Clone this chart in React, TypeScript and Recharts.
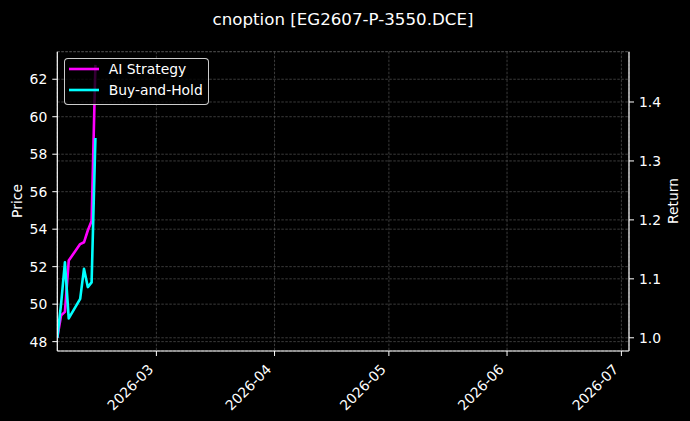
import React from 'react';
import { LineChart, Line, XAxis, YAxis, CartesianGrid } from 'recharts';

// ---- data ----
const dates = [
  '2026-02-03', '2026-02-04', '2026-02-05', '2026-02-06',
  '2026-02-09', '2026-02-10', '2026-02-11', '2026-02-12', '2026-02-13',
];
const aiStrategy = [1.0, 1.038, 1.044, 1.131, 1.159, 1.162, 1.182, 1.198, 1.463];
const buyAndHold = [1.0, 1.058, 1.128, 1.033, 1.066, 1.117, 1.086, 1.094, 1.339];

const monthTicks = ['2026-03-01', '2026-04-01', '2026-05-01', '2026-06-01', '2026-07-01'];
const xStart = '2026-02-03';
const xEnd = '2026-07-03';
const priceTicks = [48, 50, 52, 54, 56, 58, 60, 62];
const priceDomain = [47.5, 63.47];
const returnTicks = [1.0, 1.1, 1.2, 1.3, 1.4];
const returnDomain = [0.9776, 1.4853];

const title = 'cnoption [EG2607-P-3550.DCE]';
const series = [
  { key: 'ai', name: 'AI Strategy', color: '#ff00ff' },
  { key: 'bh', name: 'Buy-and-Hold', color: '#00ffff' },
];

const toTs = (s: string) => Date.parse(s + 'T00:00:00Z');
const data = dates.map((d, i) => ({ t: toTs(d), ai: aiStrategy[i], bh: buyAndHold[i] }));

const FONT = "'DejaVu Sans', sans-serif";
const TICK_FS = 13.9;
const GRID = '#555555';
const LINE_W = 2.6;

const fmtMonth = (v: number) => {
  const d = new Date(v);
  const m = d.getUTCMonth() + 1;
  return `${d.getUTCFullYear()}-${m < 10 ? '0' + m : m}`;
};

const XTick = (props: any) => {
  const { x, y, payload } = props;
  const px = x - 5.7;
  const py = y + 5.7;
  return (
    <text
      x={px}
      y={py}
      textAnchor="end"
      dominantBaseline="central"
      transform={`rotate(-45, ${px}, ${py})`}
      fill="#ffffff"
      fontSize={TICK_FS}
      fontFamily={FONT}
    >
      {fmtMonth(payload.value)}
    </text>
  );
};

export default function App() {
  return (
    <div
      style={{
        position: 'absolute',
        left: 0,
        top: 0,
        width: 690,
        height: 421,
        background: '#000',
        fontFamily: FONT,
        overflow: 'hidden',
      }}
    >
      <LineChart
        width={690}
        height={421}
        data={data}
        margin={{ top: 51.7, right: 0, bottom: 0, left: 0 }}
      >
        <CartesianGrid
          yAxisId="price"
          stroke={GRID}
          strokeDasharray="2.5 1.5"
          strokeWidth={0.7}
          vertical={true}
          horizontal={true}
        />
        <CartesianGrid
          yAxisId="ret"
          stroke={GRID}
          strokeDasharray="2.5 1.5"
          strokeWidth={0.7}
          vertical={false}
          horizontal={true}
        />
        <XAxis
          dataKey="t"
          type="number"
          scale="linear"
          domain={[toTs(xStart), toTs(xEnd)]}
          ticks={monthTicks.map(toTs)}
          allowDataOverflow
          height={70}
          tickSize={5}
          tickMargin={5}
          tick={<XTick />}
          axisLine={{ stroke: '#ffffff', strokeWidth: 1.2 }}
          tickLine={{ stroke: '#ffffff', strokeWidth: 1 }}
          interval={0}
        />
        <XAxis
          xAxisId="top"
          orientation="top"
          dataKey="t"
          type="number"
          domain={[toTs(xStart), toTs(xEnd)]}
          allowDataOverflow
          height={0}
          tick={false}
          tickLine={false}
          axisLine={{ stroke: '#ffffff', strokeWidth: 1.2 }}
        />
        <YAxis
          yAxisId="price"
          orientation="left"
          type="number"
          width={57.3}
          domain={priceDomain}
          ticks={priceTicks}
          allowDataOverflow
          interval={0}
          tickSize={5}
          tickMargin={5}
          tick={{ fill: '#ffffff', fontSize: TICK_FS, fontFamily: FONT }}
          axisLine={{ stroke: '#ffffff', strokeWidth: 1.2 }}
          tickLine={{ stroke: '#ffffff', strokeWidth: 1 }}
        />
        <YAxis
          yAxisId="ret"
          orientation="right"
          type="number"
          width={61}
          domain={returnDomain}
          ticks={returnTicks}
          allowDataOverflow
          interval={0}
          tickFormatter={(v: number) => v.toFixed(1)}
          tickSize={5}
          tickMargin={5}
          tick={{ fill: '#ffffff', fontSize: TICK_FS, fontFamily: FONT }}
          axisLine={{ stroke: '#ffffff', strokeWidth: 1.2 }}
          tickLine={{ stroke: '#ffffff', strokeWidth: 1 }}
        />
        {series.map((s) => (
          <Line
            key={s.key}
            yAxisId="ret"
            type="linear"
            dataKey={s.key}
            name={s.name}
            stroke={s.color}
            strokeWidth={LINE_W}
            strokeLinejoin="round"
            dot={false}
            activeDot={false}
            isAnimationActive={false}
          />
        ))}
      </LineChart>

      <svg
        width={690}
        height={421}
        style={{ position: 'absolute', left: 0, top: 0, pointerEvents: 'none' }}
      >
        <text x={343} y={25} textAnchor="middle" fill="#ffffff" fontSize={16.67} fontFamily={FONT}>
          {title}
        </text>
        <text
          x={17}
          y={201}
          textAnchor="middle"
          dominantBaseline="central"
          transform="rotate(-90, 17, 201)"
          fill="#ffffff"
          fontSize={TICK_FS}
          fontFamily={FONT}
        >
          Price
        </text>
        <text
          x={673}
          y={201}
          textAnchor="middle"
          dominantBaseline="central"
          transform="rotate(-90, 673, 201)"
          fill="#ffffff"
          fontSize={TICK_FS}
          fontFamily={FONT}
        >
          Return
        </text>
      </svg>

      <div
        style={{
          position: 'absolute',
          left: 64.3,
          top: 58,
          width: 144.4,
          height: 46.7,
          boxSizing: 'border-box',
          border: '1px solid rgba(255,255,255,0.8)',
          borderRadius: 4,
          background: 'rgba(0,0,0,0.8)',
        }}
      >
        {series.map((s, i) => (
          <div
            key={s.key}
            style={{
              position: 'absolute',
              left: 3.4,
              top: 9.7 + 21.6 * i - 8,
              height: 16,
              display: 'flex',
              alignItems: 'center',
              whiteSpace: 'nowrap',
            }}
          >
            <svg width={30} height={16} style={{ display: 'block' }}>
              <line x1={0} y1={8} x2={30} y2={8} stroke={s.color} strokeWidth={LINE_W} />
            </svg>
            <span
              style={{
                marginLeft: 10,
                color: '#ffffff',
                fontSize: TICK_FS,
                lineHeight: '16px',
                fontFamily: FONT,
              }}
            >
              {s.name}
            </span>
          </div>
        ))}
      </div>
    </div>
  );
}
